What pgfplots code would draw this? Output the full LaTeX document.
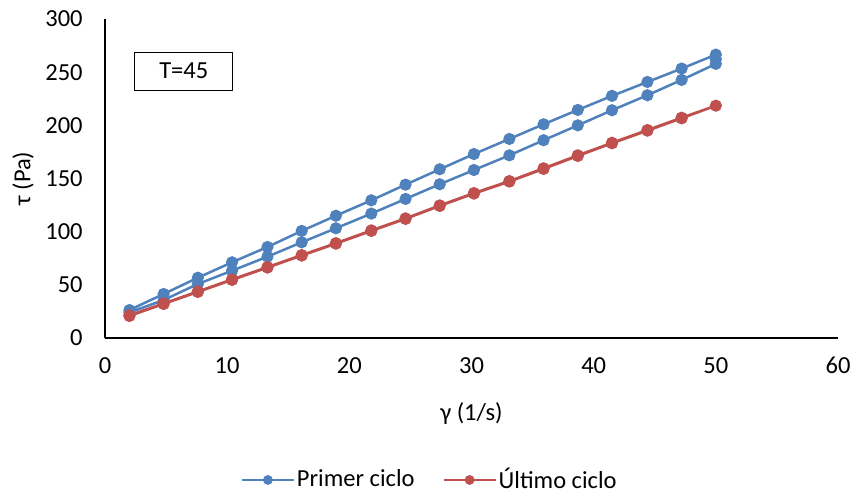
\documentclass[border=0pt]{standalone}
\usepackage{fontspec}
\setmainfont{Carlito}
\usepackage{pgfplots}
\pgfplotsset{compat=1.18}
\definecolor{exblue}{HTML}{4F81BD}
\definecolor{exred}{HTML}{C0504D}
\newcommand{\bigf}{\fontsize{24.5bp}{29bp}\selectfont}
\begin{document}
\bigf
\begin{tikzpicture}[font=\bigf]
\begin{axis}[
  scale only axis,
  width=733bp, height=319bp,
  xmin=0, xmax=60, ymin=0, ymax=300,
  xtick={0,10,...,60}, ytick={0,50,...,300},
  axis x line=bottom, axis y line=left,
  axis line style={-, line width=1.3bp, black},
  major tick length=0pt,
  tick label style={font=\bigf},
  label style={font=\bigf},
  /pgf/number format/assume math mode=true,
  xticklabel style={yshift=-11bp},
  yticklabel style={xshift=-14bp},
  xlabel={γ (1/s)},
  ylabel={τ (Pa)},
  xlabel style={yshift=-12bp},
  ylabel style={yshift=-5bp},
  legend style={at={(0.443,-0.445)}, anchor=center, draw=none, legend columns=2,
    /tikz/every even column/.append style={column sep=26bp}, font=\bigf},
  legend cell align=left,
  legend image code/.code={
    \draw[#1, mark=none, line width=2.2bp] (0bp,0bp) -- (52bp,0bp);
    \fill[#1] (26bp,0bp) circle (3.6bp);
  },
  every axis plot/.append style={line width=2.5bp, mark=*, mark size=4.8bp},
]
\addplot[color=exblue, mark options={fill=exblue, draw=exblue}] coordinates {
(2.0,24) (4.8,35.7) (7.6,50.8) (10.4,63.3) (13.3,76.5) (16.1,90) (18.9,103.2) (21.8,117) (24.6,130.8)
(27.4,144.6) (30.2,158) (33.1,171.8) (35.9,186) (38.7,200) (41.5,214.2) (44.4,228.3) (47.2,242.7) (50.0,257.8)
(50.0,262) (50.0,266.5)
(47.2,253.4) (44.4,240.8) (41.5,227.7) (38.7,214.5) (35.9,201) (33.1,187.2) (30.2,173) (27.4,158.7)
(24.6,144.2) (21.8,129.5) (18.9,115) (16.1,100.7) (13.3,85.6) (10.4,71.2) (7.6,56.7) (4.8,41.4) (2.0,26.3)
};
\addlegendentry{Primer ciclo}
\addplot[color=exred, mark options={fill=exred, draw=exred}] coordinates {
(2.0,20.7) (4.8,32) (7.6,43.3) (10.4,54.6) (13.3,66.2) (16.1,77.5) (18.9,88.7) (21.8,100.7) (24.6,112)
(27.4,124.2) (30.2,135.8) (33.1,147.1) (35.9,159) (38.7,171.2) (41.5,183.1) (44.4,195) (47.2,206.6) (50.0,218.5)
(47.2,207.2) (44.4,195.6) (41.5,183.6) (38.7,171.8) (35.9,159.6) (33.1,147.6) (30.2,136.3) (27.4,124.7)
(24.6,112.5) (21.8,101.2) (18.9,89.2) (16.1,78) (13.3,66.7) (10.4,55.1) (7.6,43.8) (4.8,32.5) (2.0,21.4)
};
\addlegendentry{Último ciclo}
\node[draw=black, line width=1.1bp, minimum width=98bp, minimum height=38bp, inner sep=0pt, font=\bigf] at (axis cs:6.45,251) {T=45};
\end{axis}
\pgfresetboundingbox
\path (-105bp,-158bp) rectangle (749bp,338bp);
\end{tikzpicture}
\end{document}
